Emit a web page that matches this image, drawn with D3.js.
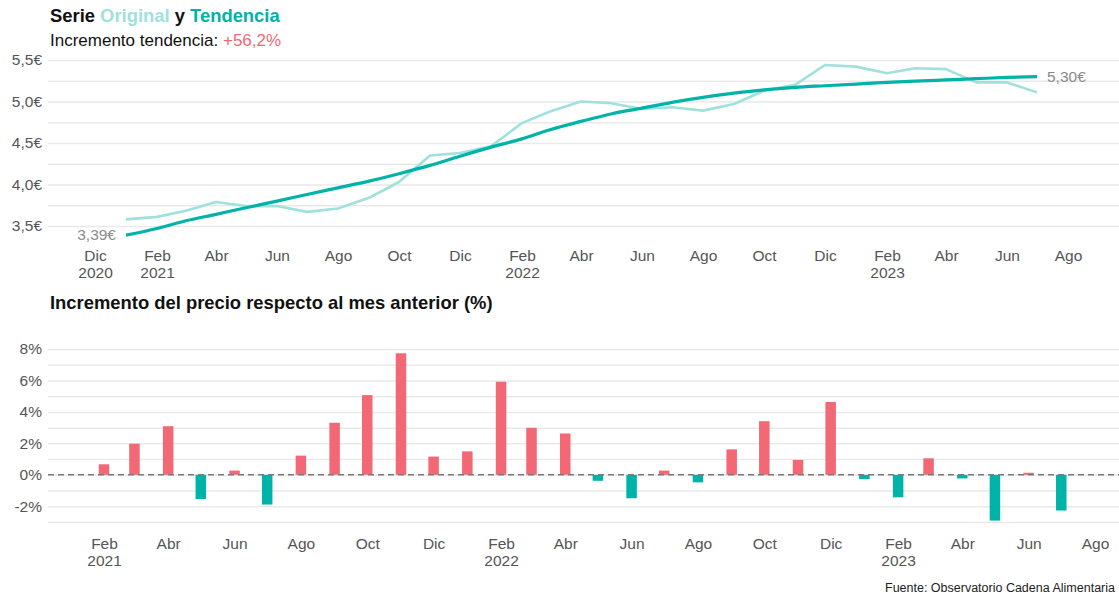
<!DOCTYPE html>
<html>
<head>
<meta charset="utf-8">
<script src="https://cdn.jsdelivr.net/npm/d3@7"></script>
<style>
  body { margin: 0; background: #ffffff; }
  svg { display: block; font-family: "Liberation Sans", Arial, sans-serif; }
</style>
</head>
<body>
<div id="chart"></div>
<script>
// meses (primer dia de cada mes), ene 2021 - jul 2023
var months = ["2021-01","2021-02","2021-03","2021-04","2021-05","2021-06","2021-07","2021-08","2021-09","2021-10","2021-11","2021-12",
              "2022-01","2022-02","2022-03","2022-04","2022-05","2022-06","2022-07","2022-08","2022-09","2022-10","2022-11","2022-12",
              "2023-01","2023-02","2023-03","2023-04","2023-05","2023-06","2023-07"];

// serie original (€)
var original = [3.58,3.61,3.68,3.79,3.74,3.74,3.67,3.71,3.84,4.03,4.35,4.38,
                4.46,4.74,4.88,5.00,4.98,4.91,4.93,4.89,4.97,5.13,5.20,5.44,
                5.42,5.34,5.40,5.39,5.23,5.23,5.11];

// tendencia (€)
var trend = [3.39,3.47,3.56,3.64,3.72,3.80,3.88,3.96,4.04,4.13,4.23,4.34,
             4.45,4.55,4.66,4.76,4.85,4.92,4.99,5.05,5.10,5.14,5.17,5.19,
             5.21,5.23,5.245,5.26,5.275,5.29,5.30];

// incremento mensual (%), feb 2021 - jul 2023
var changeMonths = months.slice(1);
var change = [0.67,1.98,3.09,-1.54,0.27,-1.89,1.22,3.31,5.07,7.73,1.16,1.49,
              5.92,2.99,2.63,-0.38,-1.49,0.27,-0.48,1.62,3.41,0.95,4.63,
              -0.27,-1.43,1.05,-0.23,-2.91,0.13,-2.27];

// ejes
var topTicks = ["2020-12","2021-02","2021-04","2021-06","2021-08","2021-10","2021-12","2022-02","2022-04","2022-06","2022-08","2022-10","2022-12","2023-02","2023-04","2023-06","2023-08"];
var topTickLabels = [["Dic","2020"],["Feb","2021"],["Abr",""],["Jun",""],["Ago",""],["Oct",""],["Dic",""],["Feb","2022"],["Abr",""],["Jun",""],["Ago",""],["Oct",""],["Dic",""],["Feb","2023"],["Abr",""],["Jun",""],["Ago",""]];
var bottomTicks = topTicks.slice(1);
var bottomTickLabels = topTickLabels.slice(1);
var priceGrid = [3.5,3.75,4.0,4.25,4.5,4.75,5.0,5.25,5.5];
var priceLabels = ["3,5€","","4,0€","","4,5€","","5,0€","","5,5€"];
var pctGrid = [-3,-2,-1,0,1,2,3,4,5,6,7,8];
var pctLabels = ["","-2%","","0%","","2%","","4%","","6%","","8%"];

var parseMonth = d3.timeParse("%Y-%m");

var W = 1119, H = 597;
var left = 48, right = 1119;
var teal = "#00b3a8", lightTeal = "#9fe1dc", red = "#f36875";
var gridColor = "#e9e9e9", tickColor = "#555555";

var svg = d3.select("#chart").append("svg").attr("width", W).attr("height", H);

// ---------- titulos ----------
var t1 = svg.append("text").attr("x", 50).attr("y", 22)
    .attr("font-size", "18.4px").attr("font-weight", "bold").attr("fill", "#111");
t1.append("tspan").text("Serie ");
t1.append("tspan").attr("fill", lightTeal).text("Original");
t1.append("tspan").text(" y ");
t1.append("tspan").attr("fill", teal).text("Tendencia");

var t2 = svg.append("text").attr("x", 50).attr("y", 46)
    .attr("font-size", "17px").attr("fill", "#111");
t2.append("tspan").text("Incremento tendencia: ");
t2.append("tspan").attr("fill", red).text("+56,2%");

svg.append("text").attr("x", 50).attr("y", 309)
    .attr("font-size", "18.4px").attr("font-weight", "bold").attr("fill", "#111")
    .text("Incremento del precio respecto al mes anterior (%)");

svg.append("text").attr("x", 1115).attr("y", 592).attr("text-anchor", "end")
    .attr("font-size", "12.5px").attr("fill", "#222")
    .text("Fuente: Observatorio Cadena Alimentaria");

// ---------- grafico superior ----------
var xTop = d3.scaleTime().domain([parseMonth("2020-12"), parseMonth("2023-08")]).range([95, 1068]);
var yTop = d3.scaleLinear().domain([3.5, 5.5]).range([226, 60]);

function styleYAxis(g, labels) {
    g.select(".domain").remove();
    g.selectAll(".tick line").attr("stroke", gridColor).attr("stroke-width", 1.5);
    g.selectAll(".tick text").attr("fill", tickColor).attr("font-size", "15.5px")
        .text(function (d, i) { return labels[i]; });
}

svg.append("g").attr("transform", "translate(" + left + ",0)")
    .call(d3.axisLeft(yTop).tickValues(priceGrid).tickSize(-(right - left)).tickPadding(6))
    .call(styleYAxis, priceLabels);

function xLabels(g, ticks, labels, y1, y2) {
    ticks.forEach(function (t, i) {
        var txt = g.append("text").attr("text-anchor", "middle")
            .attr("font-size", "15.5px").attr("fill", tickColor);
        txt.append("tspan").attr("x", 0).attr("y", y1).text(labels[i][0]);
        if (labels[i][1]) txt.append("tspan").attr("x", 0).attr("y", y2).text(labels[i][1]);
    });
}

var xTopAxis = svg.append("g")
    .call(d3.axisBottom(xTop).tickValues(topTicks.map(parseMonth)).tickSize(0).tickFormat(""));
xTopAxis.select(".domain").remove();
xTopAxis.selectAll(".tick").each(function (d, i) {
    xLabels(d3.select(this), [d], [topTickLabels[i]], 261, 278);
});

var lineTop = d3.line()
    .x(function (d, i) { return xTop(parseMonth(months[i])); })
    .y(function (d) { return yTop(d); });

svg.append("path").datum(original)
    .attr("d", lineTop).attr("fill", "none")
    .attr("stroke", lightTeal).attr("stroke-width", 2.6).attr("stroke-linejoin", "round");

svg.append("path").datum(trend)
    .attr("d", lineTop.curve(d3.curveMonotoneX)).attr("fill", "none")
    .attr("stroke", teal).attr("stroke-width", 3.2).attr("stroke-linejoin", "round");

var fmt = function (v) { return v.toFixed(2).replace(".", ",") + "€"; };
var n = trend.length - 1;
svg.append("text")
    .attr("x", xTop(parseMonth(months[0])) - 10).attr("y", yTop(trend[0])).attr("dy", "0.33em")
    .attr("text-anchor", "end").attr("font-size", "15.5px").attr("fill", "#8a8a8a")
    .text(fmt(trend[0]));
svg.append("text")
    .attr("x", xTop(parseMonth(months[n])) + 10).attr("y", yTop(trend[n])).attr("dy", "0.33em")
    .attr("font-size", "15.5px").attr("fill", "#8a8a8a")
    .text(fmt(trend[n]));

// ---------- grafico inferior ----------
var xBot = d3.scaleTime().domain([parseMonth("2021-02"), parseMonth("2023-08")]).range([104, 1095]);
var yBot = d3.scaleLinear().domain([-3, 8]).range([522, 349]);

svg.append("g").attr("transform", "translate(" + left + ",0)")
    .call(d3.axisLeft(yBot).tickValues(pctGrid).tickSize(-(right - left)).tickPadding(6))
    .call(styleYAxis, pctLabels);

var xBotAxis = svg.append("g")
    .call(d3.axisBottom(xBot).tickValues(bottomTicks.map(parseMonth)).tickSize(0).tickFormat(""));
xBotAxis.select(".domain").remove();
xBotAxis.selectAll(".tick").each(function (d, i) {
    xLabels(d3.select(this), [d], [bottomTickLabels[i]], 549, 566);
});

var barW = 10.5;
svg.append("g").selectAll("rect").data(change).enter()
    .append("rect")
    .attr("x", function (d, i) { return xBot(parseMonth(changeMonths[i])) - barW / 2; })
    .attr("y", function (d) { return yBot(Math.max(0, d)); })
    .attr("width", barW)
    .attr("height", function (d) { return Math.abs(yBot(d) - yBot(0)); })
    .attr("fill", function (d) { return d >= 0 ? red : teal; });

svg.append("line")
    .attr("x1", left).attr("x2", right)
    .attr("y1", yBot(0)).attr("y2", yBot(0))
    .attr("stroke", "#7a7a7a").attr("stroke-width", 1.5).attr("stroke-dasharray", "6,4");
</script>
</body>
</html>
